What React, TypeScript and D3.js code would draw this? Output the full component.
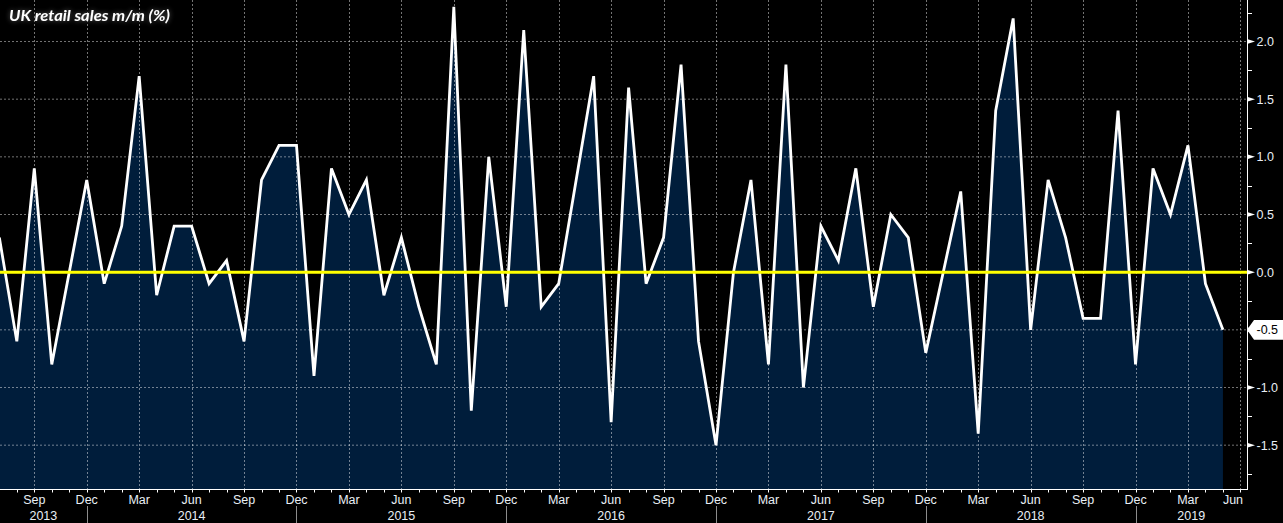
import React from 'react';
import * as d3 from 'd3';

// ---- Data (monthly, starting July 2013) ----
const firstYear = 2013;
const firstMonth = 7; // July
const retailSalesMoM: number[] = [
  // 2013 Jul-Dec
  0.3, -0.6, 0.9, -0.8, 0.0, 0.8,
  // 2014
  -0.1, 0.4, 1.7, -0.2, 0.4, 0.4, -0.1, 0.1, -0.6, 0.8, 1.1, 1.1,
  // 2015
  -0.9, 0.9, 0.5, 0.8, -0.2, 0.3, -0.3, -0.8, 2.3, -1.2, 1.0, -0.3,
  // 2016
  2.1, -0.3, -0.1, 0.8, 1.7, -1.3, 1.6, -0.1, 0.3, 1.8, -0.6, -1.5,
  // 2017
  0.0, 0.8, -0.8, 1.8, -1.0, 0.4, 0.1, 0.9, -0.3, 0.5, 0.3, -0.7,
  // 2018
  0.0, 0.7, -1.4, 1.4, 2.2, -0.5, 0.8, 0.3, -0.4, -0.4, 1.4, -0.8,
  // 2019 Jan-May
  0.9, 0.5, 1.1, -0.1, -0.5,
];

const yearLabels = ['2013', '2014', '2015', '2016', '2017', '2018', '2019'];
const quarterLabels = ['Mar', 'Jun', 'Sep', 'Dec'];
const yTickValues = [-1.5, -1.0, -0.5, 0.0, 0.5, 1.0, 1.5, 2.0];
const yMinorValues = [-1.75, -1.25, -0.75, -0.25, 0.25, 0.75, 1.25, 1.75, 2.25];
const title = 'UK retail sales m/m (%)';

// ---- Layout ----
const W = 1283;
const H = 523;
const plotRight = 1247;
const plotBottom = 489;

// month index: 0 = Jan 2013
const mIndex = (i: number) => (firstYear - 2013) * 12 + (firstMonth - 1) + i;
const firstGridMonth = 8; // Sep 2013
const lastGridMonth = 77; // Jun 2019

export default function App() {
  const x = d3.scaleLinear().domain([6.038, 77.377]).range([0, plotRight]);
  const y = d3.scaleLinear().domain([-1.88, 2.36]).range([plotBottom, 0]);

  const area = d3
    .area<number>()
    .x((_, i) => x(mIndex(i)))
    .y0(plotBottom)
    .y1((d) => y(d));
  const line = d3
    .line<number>()
    .x((_, i) => x(mIndex(i)))
    .y((d) => y(d));

  const quarterMonths = d3.range(firstGridMonth, lastGridMonth + 1, 3);
  const allMonths = d3.range(Math.ceil(x.domain()[0]), lastGridMonth + 1);
  const decMonths = yearLabels.slice(0, -1).map((_, k) => k * 12 + 11);

  const lastVal = retailSalesMoM[retailSalesMoM.length - 1];
  const yl = y(lastVal);

  const labelColor = '#e9eff5';
  const font = "'Liberation Sans', Arial, sans-serif";

  return (
    <svg
      width={W}
      height={H}
      style={{ position: 'fixed', left: 0, top: 0, display: 'block', background: '#000' }}
    >
      <defs>
        <clipPath id="plotClip">
          <rect x={0} y={0} width={plotRight} height={plotBottom} />
        </clipPath>
        <filter id="glow" x="-10%" y="-50%" width="120%" height="200%">
          <feGaussianBlur in="SourceAlpha" stdDeviation="2.4" result="b" />
          <feFlood floodColor="#9a9a9a" floodOpacity="0.6" result="c" />
          <feComposite in="c" in2="b" operator="in" result="g" />
          <feMerge>
            <feMergeNode in="g" />
            <feMergeNode in="SourceGraphic" />
          </feMerge>
        </filter>
      </defs>
      <rect x={0} y={0} width={W} height={H} fill="#000" />

      <g clipPath="url(#plotClip)">
        <path d={area(retailSalesMoM) || ''} fill="#001d3b" />
        {/* grid */}
        {yTickValues.map((v) => (
          <line
            key={'gy' + v}
            x1={0}
            x2={plotRight}
            y1={y(v)}
            y2={y(v)}
            stroke="#fff"
            strokeOpacity={0.45}
            strokeDasharray="2,2"
            strokeWidth={1}
          />
        ))}
        {quarterMonths.map((m) => (
          <line
            key={'gx' + m}
            x1={Math.round(x(m)) + 0.5}
            x2={Math.round(x(m)) + 0.5}
            y1={0}
            y2={plotBottom}
            stroke="#fff"
            strokeOpacity={0.45}
            strokeDasharray="2,2"
            strokeWidth={1}
          />
        ))}
        <path
          d={line(retailSalesMoM) || ''}
          fill="none"
          stroke="#fff"
          strokeWidth={2.8}
          strokeLinejoin="miter"
          strokeMiterlimit={4}
        />
        <line x1={0} x2={plotRight} y1={y(0)} y2={y(0)} stroke="#ffff00" strokeWidth={3} />
      </g>

      {/* x axis */}
      <line x1={0} x2={plotRight} y1={plotBottom + 0.5} y2={plotBottom + 0.5} stroke="#fff" strokeWidth={1} />
      {allMonths.map((m) => (
        <line
          key={'t' + m}
          x1={Math.round(x(m)) + 0.5}
          x2={Math.round(x(m)) + 0.5}
          y1={plotBottom}
          y2={plotBottom + 3.5}
          stroke="#fff"
          strokeWidth={1}
        />
      ))}
      {quarterMonths.map((m) => (
        <text
          key={'ql' + m}
          x={Math.min(x(m), 1233)}
          y={504}
          textAnchor="middle"
          fill={labelColor}
          fontFamily={font}
          fontSize={12.5}
        >
          {quarterLabels[Math.floor((m % 12) / 3)]}
        </text>
      ))}
      {decMonths.map((m) => (
        <line
          key={'ys' + m}
          x1={Math.round(x(m)) + 0.5}
          x2={Math.round(x(m)) + 0.5}
          y1={506}
          y2={H}
          stroke="#8c8c8c"
          strokeWidth={1}
        />
      ))}
      {yearLabels.map((lab, k) => {
        const left = Math.max(0, x(k * 12 - 1));
        const right = Math.min(plotRight, x(k * 12 + 11));
        return (
          <text
            key={'yl' + lab}
            x={(left + right) / 2}
            y={519.5}
            textAnchor="middle"
            fill={labelColor}
            fontFamily={font}
            fontSize={12.5}
          >
            {lab}
          </text>
        );
      })}

      {/* y axis (right) */}
      <line x1={plotRight + 0.5} x2={plotRight + 0.5} y1={0} y2={plotBottom + 1} stroke="#fff" strokeWidth={1} />
      {yMinorValues.map((v) => (
        <line
          key={'ym' + v}
          x1={plotRight}
          x2={plotRight + 5}
          y1={Math.round(y(v)) + 0.5}
          y2={Math.round(y(v)) + 0.5}
          stroke="#fff"
          strokeWidth={1}
        />
      ))}
      {yTickValues.map((v) => (
        <g key={'yt' + v}>
          <polygon
            points={`${plotRight},${y(v) - 2.5} ${plotRight + 8},${y(v)} ${plotRight},${y(v) + 2.5}`}
            fill="#fff"
          />
          <text
            x={1256.5}
            y={y(v) + 4.5}
            fill={labelColor}
            fontFamily={font}
            fontSize={12.5}
          >
            {d3.format('.1f')(v).replace('−', '-')}
          </text>
        </g>
      ))}
      {/* last value marker */}
      <polygon
        points={`${plotRight},${yl} ${plotRight + 7},${yl - 9.8} ${W},${yl - 9.8} ${W},${yl + 9.8} ${plotRight + 7},${yl + 9.8}`}
        fill="#fff"
      />
      <text x={1256.5} y={yl + 4.5} fill="#000" fontFamily={font} fontSize={12.5}>
        {d3.format('.1f')(lastVal).replace('−', '-')}
      </text>

      {/* title */}
      <text
        x={9}
        y={21}
        fill="#fff"
        fontFamily="Lato, 'Open Sans', sans-serif"
        fontStyle="italic"
        fontWeight="bold"
        fontSize={16}
        textLength={161}
        lengthAdjust="spacingAndGlyphs"
        filter="url(#glow)"
      >
        {title}
      </text>
    </svg>
  );
}
